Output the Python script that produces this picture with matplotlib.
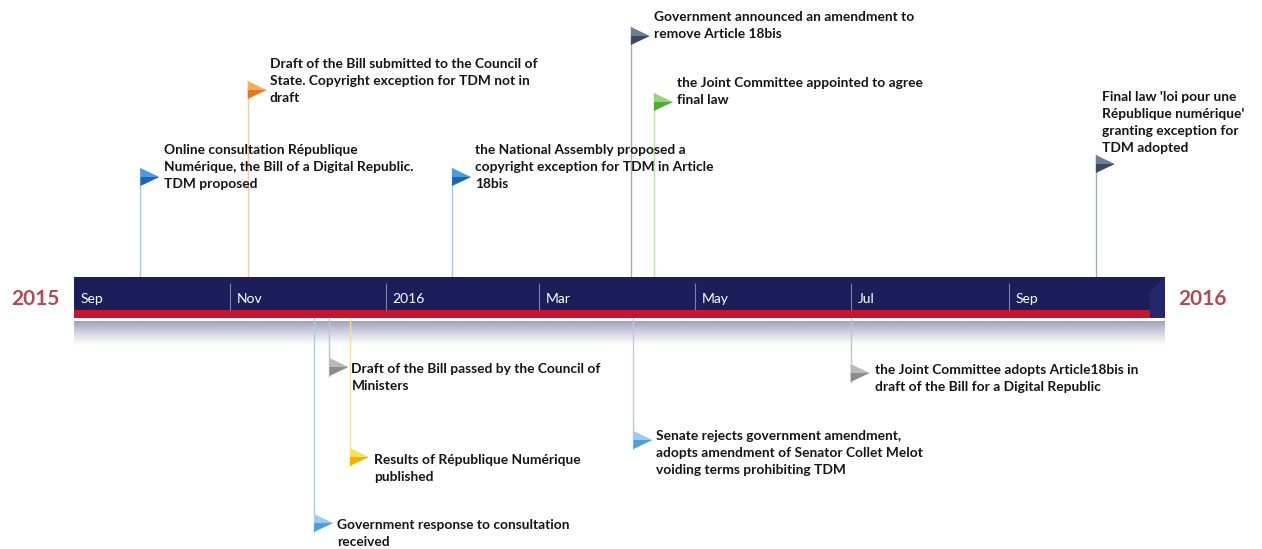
import numpy as np
import matplotlib
matplotlib.use("Agg")
import matplotlib.pyplot as plt
import matplotlib.dates as mdates

# Data
month_labels = ['Sep', 'Nov', '2016', 'Mar', 'May', 'Jul', 'Sep']
month_starts = ['2015-09-01', '2015-11-01', '2016-01-01', '2016-03-01',
                '2016-05-01', '2016-07-01', '2016-09-01']
year_labels = ['2015', '2016']

event_dates = ['2015-09-27', '2015-11-08', '2015-12-04', '2015-12-10',
               '2015-12-18', '2016-01-27', '2016-04-06', '2016-04-07',
               '2016-04-15', '2016-07-01', '2016-10-05']
event_texts = [
    "Online consultation République\nNumérique, the Bill of a Digital Republic.\nTDM proposed",
    "Draft of the Bill submitted to the Council of\nState. Copyright exception for TDM not in\ndraft",
    "Government response to consultation\nreceived",
    "Draft of the Bill passed by the Council of\nMinisters",
    "Results of République Numérique\npublished",
    "the National Assembly proposed a\ncopyright exception for TDM in Article\n18bis",
    "Government announced an amendment to\nremove Article 18bis",
    "Senate rejects government amendment,\nadopts amendment of Senator Collet Melot\nvoiding terms prohibiting TDM",
    "the Joint Committee appointed to agree\nfinal law",
    "the Joint Committee adopts Article18bis in\ndraft of the Bill for a Digital Republic",
    "Final law 'loi pour une\nRépublique numérique'\ngranting exception for\nTDM adopted",
]

# Layout (pixel rows): flag centre, first text line centre, text x offset
flag_y = [177, 90, 523, 367, 457, 177, 36, 440, 102, 373, 164]
text_y = [150, 64, 525, 369, 460, 150, 17, 436, 83, 370, 97]
text_dx = [24, 22, 23, 22, 24, 23, 23, 23, 23, 24, 6]
styles = ['blue', 'orange', 'lblue', 'grey', 'yellow', 'blue', 'slate',
          'lblue', 'green', 'grey', 'slate']

palette = {
    # upper half, lower half, pole
    'blue':   ('#4a9be3', '#1d63b3', '#a9c9ea'),
    'orange': ('#f7ab5c', '#e27a1f', '#f3cba6'),
    'lblue':  ('#9ccbf0', '#519ddb', '#aecde9'),
    'grey':   ('#b9b9b9', '#8b8b8b', '#c4c4c4'),
    'yellow': ('#ffdf5a', '#f1b300', '#f1e0a6'),
    'slate':  ('#6f7d98', '#3b4864', '#a3a9b8'),
    'green':  ('#97d474', '#57a838', '#bfe0ad'),
}

navy = '#1c1e5c'
red = '#c8142c'
year_color = '#b04a55'
font = 'Lato'

W, H = 1262, 549
d0 = mdates.datestr2num('2015-09-01')
dpp = 366 / 935.0            # days per pixel
band_top, band_bot, red_top = 277, 318, 310

fig = plt.figure(figsize=(W / 100, H / 100), dpi=100)
ax = fig.add_axes([0, 0, 1, 1])
ax.axis('off')

ms = mdates.datestr2num(month_starts)
bs = ms[0]
be = mdates.datestr2num('2016-11-01')

# timeline band
ax.fill_between([bs, be], band_top, band_bot, color=navy, lw=0, zorder=2)
ax.fill([be - 15 * dpp, be, be, be - 15 * dpp], [292, band_top, band_bot, band_bot],
        color='#24276a', lw=0, zorder=3)
ax.fill_between([bs, be - 15 * dpp], red_top, band_bot, color=red, lw=0, zorder=3)

# reflection under the band
grad = np.zeros((60, 2, 4))
grad[..., :3] = matplotlib.colors.to_rgb('#8a8eae')
grad[..., 3] = np.linspace(0.85, 0.0, 60)[:, None] ** 1.2
ax.imshow(grad, extent=[bs, be, 346, 321], aspect='auto', zorder=1,
          interpolation='bilinear')

# month dividers and labels
ax.vlines(ms[1:], 283, red_top, color='#7d80a8', lw=0.8, zorder=4)
for m, lab in zip(ms, month_labels):
    ax.text(m + 7 * dpp, 299, lab, color='white', fontsize=10, family=font,
            va='center', ha='left', zorder=5)

ax.text(bs - 39 * dpp, 299, year_labels[0], color=year_color, fontsize=15,
        family=font, weight='bold', ha='center', va='center')
ax.text(be + 38 * dpp, 299, year_labels[1], color=year_color, fontsize=15,
        family=font, weight='bold', ha='center', va='center')

# events
pitch = 17
fw, fh = 19, 9
for d, txt, fy, ty, dx, st in zip(event_dates, event_texts, flag_y, text_y,
                                  text_dx, styles):
    x = mdates.datestr2num(d)
    up, low, pole = palette[st]
    if fy < band_top:
        ax.plot([x, x], [band_top, fy - fh], color=pole, lw=1, zorder=1)
    else:
        ax.plot([x, x], [band_bot, fy + fh], color=pole, lw=1, zorder=1)
    tip = x + fw * dpp
    ax.fill([x, tip, x], [fy - fh, fy, fy], color=up, lw=0, zorder=6)
    ax.fill([x, tip, x], [fy, fy, fy + fh], color=low, lw=0, zorder=6)
    n = txt.count('\n') + 1
    ax.text(x + dx * dpp, ty + (n - 1) * pitch / 2, txt, fontsize=9.9,
            family=font, weight='bold', color='#151515', ha='left',
            va='center', linespacing=1.48, zorder=7)

ax.set_xlim(d0 - 74 * dpp, d0 + (W - 74) * dpp)
ax.set_ylim(H, 0)

fig.savefig('out.png', dpi=100, facecolor='white')
